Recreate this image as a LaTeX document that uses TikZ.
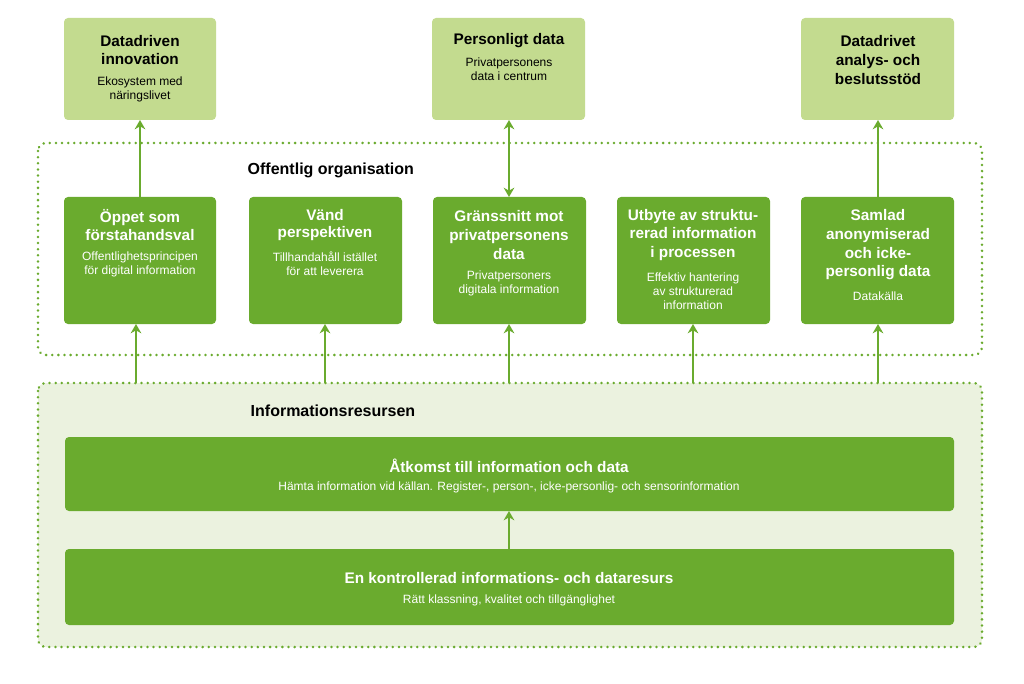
\documentclass[tikz,border=0pt]{standalone}
\usepackage{fontspec}
\setmainfont{Liberation Sans}
\usetikzlibrary{arrows.meta}
\definecolor{dg}{HTML}{6AAB2E}
\definecolor{lg}{HTML}{C3DB8F}
\definecolor{pg}{HTML}{EBF2DF}
\begin{document}
\begin{tikzpicture}[x=0.75pt,y=-0.75pt,
  tb/.style={fill=lg,rounded corners=3pt,draw=none},
  gb/.style={fill=dg,rounded corners=3pt,draw=none},
  dot/.style={draw=dg,line width=2pt,dash pattern=on 0.1pt off 4.5pt,line cap=round,rounded corners=6pt},
  ar/.style={draw=dg,line width=1.6pt,-{Stealth[length=7pt,width=8pt]}},
  dar/.style={draw=dg,line width=1.6pt,{Stealth[length=7pt,width=8pt]}-{Stealth[length=7pt,width=8pt]}},
  tt/.style={font=\bfseries\fontsize{11.5}{13}\selectfont,align=center},
  st/.style={font=\fontsize{9}{10.5}\selectfont,align=center}]
\useasboundingbox (0,0) rectangle (1024,684);
% regions
\draw[dot] (38,143) rectangle (982,355);
\draw[dot,fill=pg] (38,383) rectangle (982,647);
\node[anchor=west,font=\bfseries\fontsize{12}{14}\selectfont] (lo) at (243,170) {Offentlig organisation};
\node[anchor=west,font=\bfseries\fontsize{12}{14}\selectfont] (li) at (246,411) {Informationsresursen};
% top boxes
\path[tb] (64,18) rectangle (216,120); \coordinate (t1) at (140,120);
\path[tb] (432,18) rectangle (585,120); \coordinate (t2) at (509,120);
\path[tb] (801,18) rectangle (954,120); \coordinate (t3) at (878,120);
\node[tt] (tA) at (140,50) {Datadriven\\innovation};
\node[st] (sA) at (140,89) {Ekosystem med\\näringslivet};
\node[tt] (tB) at (509,41) {Personligt data};
\node[st] (sB) at (509,69) {Privatpersonens\\data i centrum};
\node[tt,font=\bfseries\fontsize{11.5}{14}\selectfont] (tC) at (878,60) {Datadrivet\\analys- och\\beslutsstöd};
% middle boxes
\path[gb] (64,197) rectangle (216,324);
\path[gb] (249,197) rectangle (402,324);
\path[gb] (433,197) rectangle (586,324);
\path[gb] (617,197) rectangle (770,324);
\path[gb] (801,197) rectangle (954,324);
\begin{scope}[every node/.append style={text=white}]
\node[tt] (m1) at (140,225) {Öppet som\\förstahandsval};
\node[st] (n1) at (140,264) {Offentlighetsprincipen\\för digital information};
\node[tt] (m2) at (325,225) {Vänd\\perspektiven};
\node[st] (n2) at (325,264) {Tillhandahåll istället\\för att leverera};
\node[tt,font=\bfseries\fontsize{11.5}{14}\selectfont] (m3) at (509,235) {Gränssnitt mot\\privatpersonens\\data};
\node[st] (n3) at (509,283) {Privatpersoners\\digitala information};
\node[tt,font=\bfseries\fontsize{11.5}{14}\selectfont] (m4) at (693,235) {Utbyte av struktu-\\rerad information\\i processen};
\node[st] (n4) at (693,291) {Effektiv hantering\\av strukturerad\\information};
\node[tt,font=\bfseries\fontsize{11.5}{14}\selectfont] (m5) at (878,245) {Samlad\\anonymiserad\\och icke-\\personlig data};
\node[st] (n5) at (878,296) {Datakälla};
\end{scope}
% bars
\path[gb] (65,437) rectangle (954,511);
\path[gb] (65,549) rectangle (954,625);
\node[text=white,font=\bfseries\fontsize{11.5}{13}\selectfont] (b1) at (509,466) {Åtkomst till information och data};
\node[text=white,st] (b1s) at (509,487) {Hämta information vid källan. Register-, person-, icke-personlig- och sensorinformation};
\node[text=white,font=\bfseries\fontsize{11.5}{13}\selectfont] (b2) at (509,578) {En kontrollerad informations- och dataresurs};
\node[text=white,st] (b2s) at (509,600) {Rätt klassning, kvalitet och tillgänglighet};
% arrows
\coordinate (u1) at (140,197); \coordinate (u2) at (509,197); \coordinate (u3) at (878,197);
\draw[ar] (u1) -- (t1);
\draw[dar] (u2) -- (t2);
\draw[ar] (u3) -- (t3);
\foreach \x in {136,325,509,693,878}{
  \coordinate (s\x) at (\x,383); \coordinate (e\x) at (\x,324);
  \draw[ar] (s\x) -- (e\x);}
\coordinate (bb) at (509,549); \coordinate (bt) at (509,511);
\draw[ar] (bb) -- (bt);
\end{tikzpicture}
\end{document}
